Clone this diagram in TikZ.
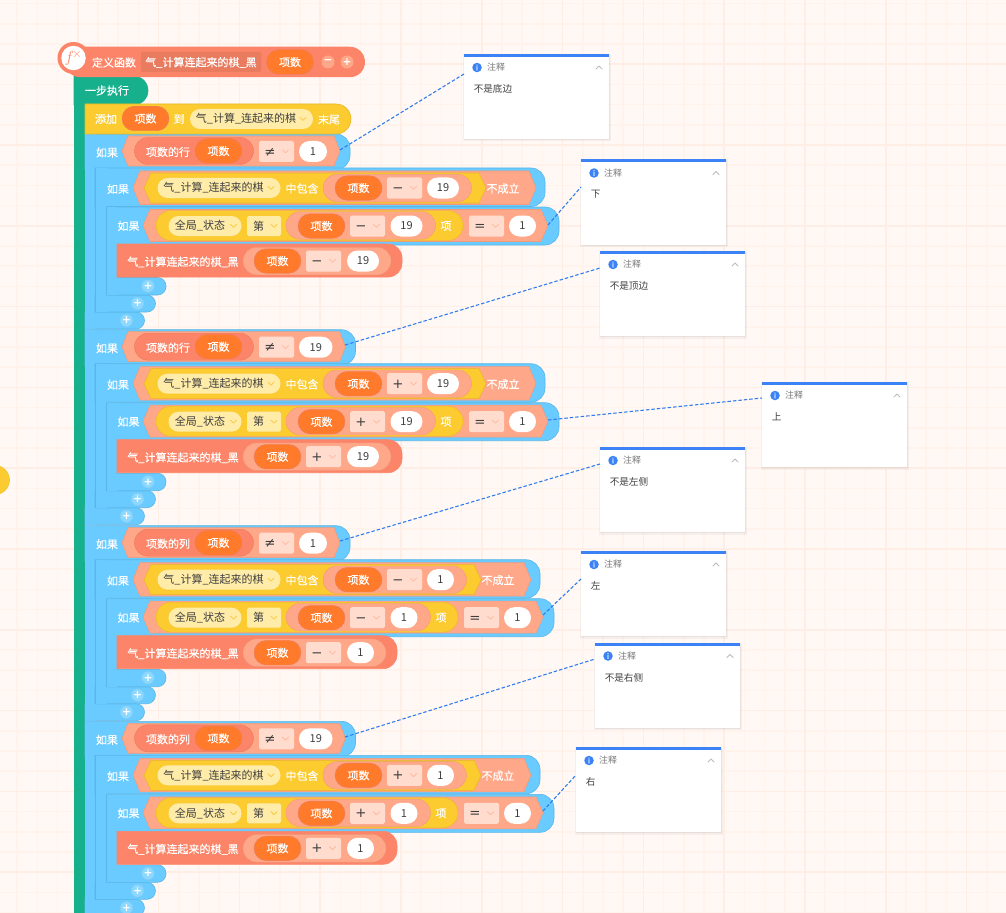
\documentclass[tikz,border=0pt]{standalone}
\usepackage{fontspec}
\usetikzlibrary{shapes.misc}
\setmainfont{Noto Sans CJK SC}[FakeBold=0.35]
\newfontfamily\plainfont{Noto Sans CJK SC}
\newfontfamily\opfont{DejaVu Sans}
\definecolor{bgc}{HTML}{FFF8F4}
\definecolor{gridc}{HTML}{FFF3EC}
\definecolor{gridm}{HTML}{FFEEE5}
\definecolor{bluec}{HTML}{69CBFF}
\definecolor{blued}{HTML}{5BB6E6}
\definecolor{plusc}{HTML}{8DD8FF}
\definecolor{greenc}{HTML}{17B08C}
\definecolor{redc}{HTML}{FC8468}
\definecolor{redd}{HTML}{E97B5F}
\definecolor{orangec}{HTML}{FF7B2B}
\definecolor{palec}{HTML}{FFA889}
\definecolor{paled}{HTML}{EE9A7C}
\definecolor{opc}{HTML}{FFDCCD}
\definecolor{opch}{HTML}{FFB8A0}
\definecolor{yellowc}{HTML}{FBCB30}
\definecolor{yellowd}{HTML}{E6B829}
\definecolor{ddc}{HTML}{FFECA8}
\definecolor{ddch}{HTML}{F8C840}
\definecolor{notec}{HTML}{3B82F6}
\definecolor{linkc}{HTML}{2E7BEF}
\definecolor{darktext}{HTML}{3F3F3F}
\definecolor{graytext}{HTML}{777777}
\definecolor{chevc}{HTML}{BBBBBB}
\def\px{0.75pt}
\tikzset{
  x=0.75pt,y=-0.75pt,
  lbl/.style={inner sep=0pt,text=white,font=\fontsize{8.25pt}{10pt}\selectfont,anchor=center},
  dklbl/.style={lbl,text=darktext,font=\fontsize{8.25pt}{10pt}\plainfont},
  pill/.style={rounded rectangle,inner sep=0pt,font=\fontsize{8.25pt}{10pt}\selectfont,anchor=center},
  varpill/.style={pill,fill=orangec,draw=redd,line width=0.3pt,text=white,minimum width=47*\px,minimum height=24.5*\px,text height=6.9pt,text depth=0.5pt},
  valpill/.style={pill,fill=white,text=darktext,font=\fontsize{8.25pt}{10pt}\plainfont,minimum height=21*\px},
  ddpill/.style={pill,fill=ddc,text=darktext,minimum height=20*\px},
  oprect/.style={inner sep=0pt,rounded corners=1.2pt,fill=opc,minimum width=35*\px,minimum height=21*\px,anchor=center},
  opsym/.style={inner sep=0pt,text=darktext,font=\fontsize{10pt}{10pt}\opfont,anchor=base},
  chev/.style={line width=0.6pt,line cap=round,line join=round},
  plusbtn/.style={circle,inner sep=0pt,minimum size=12.5*\px,fill=plusc,draw=blued!70,line width=0.3pt},
  plussign/.style={inner sep=0pt,text=white,font=\fontsize{8pt}{8pt}\opfont\bfseries,anchor=center},
  notebox/.style={inner sep=0pt,fill=white,draw=none,minimum width=145*\px,minimum height=85*\px,anchor=north west},
  link/.style={linkc,line width=0.8pt,dash pattern=on 2.6pt off 1.5pt},
}
\newcommand{\rbar}[7]{% x1 y1 x2 y2 r fill draw
  \path[fill=#6,draw=#7,line width=0.45pt] (#1,#2) [rounded corners=#5*\px] -- (#3,#2) -- (#3,#4) [sharp corners] -- (#1,#4) -- cycle;}
\newcommand{\hexa}[7]{% x1 x2 y1 y2 tip fill draw
  \path[fill=#6,draw=#7,line width=0.4pt] (#1,{(#3+#4)/2}) -- ({#1+#5},#3) -- ({#2-#5},#3) -- (#2,{(#3+#4)/2}) -- ({#2-#5},#4) -- ({#1+#5},#4) -- cycle;}
\newcommand{\chevron}[3]{% xc yc colour
  \draw[chev,#3] ({#1-3},{#2-1.6}) -- ({#1},{#2+1.4}) -- ({#1+3},{#2-1.6});}
\newcommand{\opbox}[4]{% name xleft y sym
  \node[oprect] (#1) at ({#2+17.5},#3) {};
  \node[opsym] (#1s) at ({#2+11},{#3+4.6}) {#4};
  \chevron{#2+26.5}{#3}{opch}}
\newcommand{\level}[8]{% x0 x1 ytop yheadbot headright yinner footright yfoot
  \rbar{#1}{#3}{#5}{#4}{14}{bluec}{blued}
  \rbar{#1}{#6}{#7}{#8}{8.5}{bluec}{blued}
  \fill[bluec] (#1,#3) ++(0.3,0.4) rectangle (#2,#8);}
\newcommand{\plusb}[3]{%
  \node[plusbtn] (#1) at (#2,#3) {};
  \node[plussign] (#1s) at (#2,#3) {+};}
\newcommand{\sect}[7]{% id dy rowname op sign val(top) val(sub)
  \begin{scope}[yshift=-#2*\px]
  \pgfmathsetmacro{\tdl}{ifthenelse(#6==1,0,5.5)}
  \pgfmathsetmacro{\ddl}{ifthenelse(#7==1,-5,0)}
  \level{85}{95}{134}{169.5}{350+\tdl}{312}{144.5}{329}
  \draw[bluec,line width=0.7pt] (85,134) -- (85,329);
  \level{95}{106.5}{168}{206.5}{545+\ddl}{295}{155.5}{312}
  \level{106.5}{117}{207}{245}{559+\ddl}{277.5}{166}{295}
  \draw[blued,line width=0.45pt] (95,168) -- (95,312);
  \draw[blued,line width=0.45pt] (106.5,207) -- (106.5,295);
  \plusb{#1p1}{126.5}{320.5}
  \plusb{#1p2}{137.5}{303.5}
  \plusb{#1p3}{148}{286}
  % top condition
  \node[lbl] (#1if) at (107,152.5) {如果};
  \hexa{122}{340+\tdl}{136}{166}{6}{palec}{paled}
  \node[pill,fill=redc,draw=redd,line width=0.3pt,minimum width=119*\px,minimum height=27*\px] (#1a) at (194,151) {};
  \node[lbl] (#1at) at (168,152) {项数的#3};
  \node[varpill] (#1av) at (218.5,151) {项数};
  \opbox{#1op}{259}{151.5}{#4}
  \node[valpill,minimum width={(28+\tdl)*\px}] (#1val) at ({299+(28+\tdl)/2},151.5) {#6};
  % condition 2
  \node[lbl] (#1if2) at (118,189) {如果};
  \hexa{133}{536+\ddl}{171}{204.5}{7}{palec}{paled}
  \hexa{144}{486+\ddl}{173}{203}{7}{yellowc}{yellowd}
  \node[ddpill,minimum width=123*\px] (#1dd) at (219,188) {};
  \node[dklbl] (#1ddt) at (213.5,188) {气\_计算\_连起来的棋};
  \chevron{271}{188}{ddch}
  \node[lbl] (#1in) at (302,188.5) {中包含};
  \node[pill,fill=palec,draw=paled,line width=0.3pt,minimum width={(148.5+\ddl)*\px},minimum height=27.5*\px] (#1e) at ({323+(148.5+\ddl)/2},188) {};
  \node[varpill] (#1ev) at (358.5,188) {项数};
  \opbox{#1eo}{387}{188}{#5}
  \node[valpill,minimum width={(32+\ddl)*\px}] (#1ev2) at ({427+(32+\ddl)/2},188) {#7};
  \node[lbl] (#1no) at ({503+\ddl},188.5) {不成立};
  % condition 3
  \node[lbl] (#1if3) at (128.5,226) {如果};
  \hexa{143}{548+\ddl}{209.5}{241.5}{7}{palec}{paled}
  \node[pill,fill=yellowc,draw=yellowd,line width=0.3pt,minimum width={(307+\ddl)*\px},minimum height=30*\px] (#1g) at ({156+(307+\ddl)/2},225.5) {};
  \node[ddpill,minimum width=73*\px] (#1st) at (205,226) {};
  \node[dklbl] (#1stt) at (200,226) {全局\_状态};
  \chevron{233.5}{226}{ddch}
  \node[inner sep=0pt,rounded corners=1.2pt,fill=ddc,minimum width=34*\px,minimum height=20*\px] (#1nth) at (264,226) {};
  \node[dklbl] (#1ntht) at (258.5,226) {第};
  \chevron{274}{226}{ddch}
  \node[pill,fill=palec,draw=paled,line width=0.3pt,minimum width={(149.5+\ddl)*\px},minimum height=27.5*\px] (#1h) at ({286+(149.5+\ddl)/2},225.5) {};
  \node[varpill] (#1hv) at (321.5,226) {项数};
  \opbox{#1ho}{350}{226}{#5}
  \node[valpill,minimum width={(32+\ddl)*\px}] (#1hv2) at ({390.5+(32+\ddl)/2},226) {#7};
  \node[lbl] (#1x) at ({446+\ddl},226) {项};
  \opbox{#1eq}{469+\ddl}{226}{=}
  \node[valpill,minimum width=27*\px] (#1one) at ({522.5+\ddl},226) {1};
  % action
  \rbar{117}{244}{402+\ddl}{277}{14}{redc}{redc}
  \node[lbl] (#1act) at (183,262) {气\_计算连起来的棋\_黑};
  \node[pill,fill=palec,draw=paled,line width=0.3pt,minimum width={(148+\ddl)*\px},minimum height=27.5*\px] (#1i) at ({243+(148+\ddl)/2},261) {};
  \node[varpill] (#1iv) at (277.5,261) {项数};
  \opbox{#1io}{306}{261}{#5}
  \node[valpill,minimum width={(32+\ddl)*\px}] (#1iv2) at ({347+(32+\ddl)/2},261) {#7};
  \end{scope}}
\newcommand{\notecard}[4]{% name x y text
  \fill[black,opacity=0.04] ({#2-1.5},{#3}) rectangle ({#2+146.5},{#3+87.5});
  \fill[black,opacity=0.05] ({#2-0.5},{#3+1}) rectangle ({#2+145.5},{#3+86.3});
  \node[notebox] (#1) at (#2,#3) {};
  \fill[notec] (#2,#3) rectangle ({#2+145},{#3+3});
  \node[circle,fill=notec,minimum size=9.5*\px,inner sep=0pt,text=white,font=\fontsize{5.5pt}{6pt}\selectfont] (#1i) at ({#2+13},{#3+13.5}) {i};
  \node[inner sep=0pt,text=graytext,font=\fontsize{6.7pt}{8pt}\plainfont] (#1t) at ({#2+32},{#3+13.5}) {注释};
  \draw[chev,chevc] ({#2+132},{#3+15}) -- ({#2+135},{#3+12}) -- ({#2+138},{#3+15});
  \node[inner sep=0pt,anchor=west,text=darktext,font=\fontsize{7.2pt}{9pt}\plainfont] (#1b) at ({#2+9.5},{#3+35}) {#4};
}
\begin{document}
\begin{tikzpicture}
\useasboundingbox (0,0) rectangle (1006,913);
\begin{scope}
\clip (0,0) rectangle (1006,913);
\fill[bgc] (0,0) rectangle (1006,913);
\foreach \i in {0,...,50} {\draw[gridc,line width=1.1pt] ({-3+\i*20.2},0) -- ({-3+\i*20.2},913);}
\foreach \i in {0,...,46} {\draw[gridc,line width=1.1pt] (0,{3.6+\i*20.2}) -- (1006,{3.6+\i*20.2});}
\foreach \i in {0,...,12} {\draw[gridm,line width=1.1pt] ({77.8+\i*80.8},0) -- ({77.8+\i*80.8},913);}
\foreach \i in {0,...,11} {\draw[gridm,line width=1.1pt] (0,{64.2+\i*80.8}) -- (1006,{64.2+\i*80.8});}
\node[circle,fill=yellowc,draw=yellowd,line width=0.3pt,minimum size=29*\px,inner sep=0pt] (side) at (-5,480) {};
% green stack
\fill[greenc] (74,90) rectangle (85,913);
\rbar{74}{76}{148}{105}{14.5}{greenc}{greenc}
\node[lbl] (step) at (107,90.5) {一步执行};
\sect{d}{587.3}{列}{≠}{+}{19}{1}
\sect{c}{391.7}{列}{≠}{−}{1}{1}
\sect{b}{195.7}{行}{≠}{+}{19}{19}
\sect{a}{0}{行}{≠}{−}{1}{19}
% add row
\rbar{85}{104}{351}{134}{15}{yellowc}{yellowd}
\node[lbl] (add) at (106,119) {添加};
\node[varpill] (addv) at (145.5,118.5) {项数};
\node[lbl] (to) at (179,119) {到};
\node[ddpill,minimum width=123*\px] (adddd) at (251.5,119) {};
\node[dklbl] (adddt) at (246,119) {气\_计算\_连起来的棋};
\chevron{303}{119}{ddch}
\node[lbl] (tail) at (329,119.5) {末尾};
% header
\node[pill,fill=redc,minimum width=300*\px,minimum height=30.5*\px] (hdr) at (215,62) {};
\node[circle,fill=redc,minimum size=32*\px,inner sep=0pt] (fxo) at (73.5,58) {};
\node[circle,fill=white,minimum size=24.5*\px,inner sep=0pt,text=redc,font=\fontsize{13pt}{13pt}\selectfont] (fx) at (73.5,58) {$f^{\!\times}$};
\node[lbl] (def) at (114,62.5) {定义函数};
\node[inner sep=0pt,fill=redd,rounded corners=1pt,minimum width=120*\px,minimum height=20*\px] (fname) at (201,62) {};
\node[lbl] (fnamet) at (201,62.5) {气\_计算连起来的棋\_黑};
\node[varpill] (fvar) at (290,62) {项数};
\node[circle,fill=palec,minimum size=13*\px,inner sep=0pt] (mn) at (328,62) {};
\node[plussign] (mns) at (328,62) {−};
\node[circle,fill=palec,minimum size=13*\px,inner sep=0pt] (pl) at (347,62) {};
\node[plussign] (pls) at (347,62) {+};
% notes
\notecard{n1}{464}{54}{不是底边}
\notecard{n2}{581}{159.5}{下}
\notecard{n3}{600}{251}{不是顶边}
\notecard{n4}{762}{382}{上}
\notecard{n5}{600}{447}{不是左侧}
\notecard{n6}{581}{551}{左}
\notecard{n7}{595}{642.5}{不是右侧}
\notecard{n8}{576}{747}{右}
% links
\coordinate (a1) at (340,150); \coordinate (a2) at (548,225);
\coordinate (a3) at (345,345); \coordinate (a4) at (548,420);
\coordinate (a5) at (340,541); \coordinate (a6) at (543,615);
\coordinate (a7) at (345,737); \coordinate (a8) at (543,811);
\draw[link] (a1) -- (n1.north west |- 0,74);
\draw[link] (a2) -- (n2.north west |- 0,187);
\draw[link] (a3) -- (n3.north west |- 0,268);
\draw[link] (a4) -- (n4.north west |- 0,398);
\draw[link] (a5) -- (n5.north west |- 0,464);
\draw[link] (a6) -- (n6.north west |- 0,579);
\draw[link] (a7) -- (n7.north west |- 0,659);
\draw[link] (a8) -- (n8.north west |- 0,775);
\end{scope}
\end{tikzpicture}
\end{document}
